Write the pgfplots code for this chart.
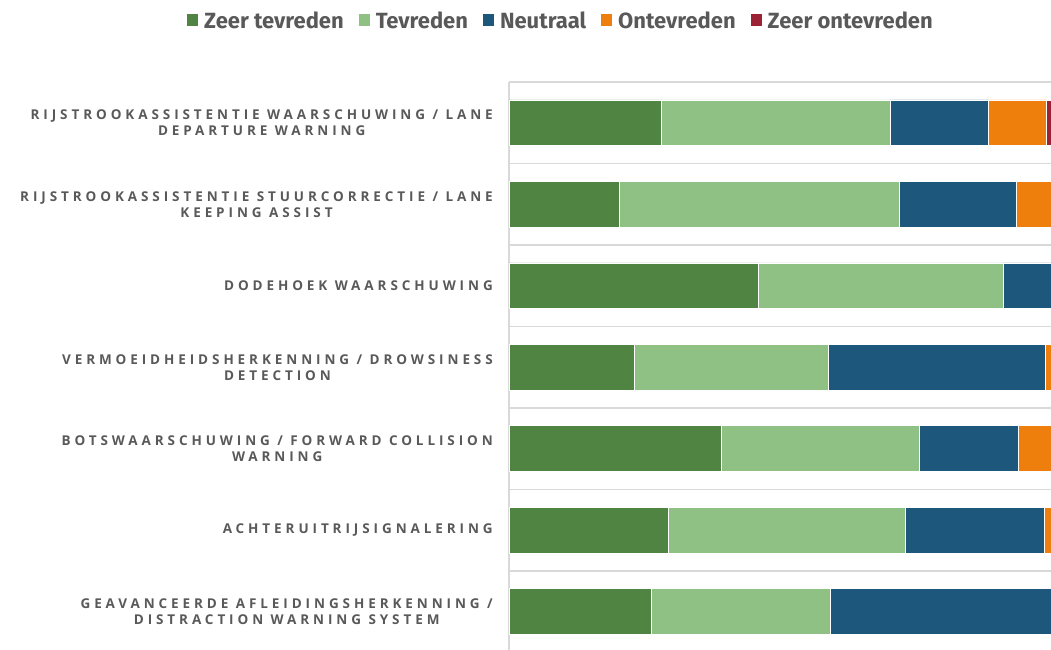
\documentclass[border=0pt]{standalone}
\usepackage{fontspec}
\setmainfont{Open Sans}
\newfontfamily\lblfont[LetterSpace=29]{Open Sans}
\newfontfamily\legfont{Fira Sans}
\usepackage{pgfplots}
\usepackage{pgfplotstable}
\pgfplotsset{compat=1.18}

\definecolor{zeertevr}{RGB}{79,132,66}
\definecolor{tevr}{RGB}{143,193,132}
\definecolor{neutr}{RGB}{30,87,124}
\definecolor{ontevr}{RGB}{239,127,13}
\definecolor{zeeront}{RGB}{155,35,53}
\definecolor{txtgray}{RGB}{89,89,89}
\definecolor{gridgray}{RGB}{217,217,217}

% share per category (percent), top to bottom
\pgfplotstableread{
pos zt   t    n    o    zo
0   28.0 42.3 18.1 10.7 0.9
1   20.3 51.7 21.6 6.4  0.0
2   45.9 45.2 8.9  0.0  0.0
3   23.1 35.8 40.1 1.0  0.0
4   39.2 36.5 18.3 6.0  0.0
5   29.4 43.8 25.6 1.2  0.0
6   26.3 32.9 40.8 0.0  0.0
}\satisfaction

\begin{document}
\begin{tikzpicture}
\useasboundingbox (0bp,0bp) rectangle (1051bp,650bp);
\begin{axis}[
    at={(509bp,0bp)}, anchor=south west,
    scale only axis,
    width=542bp, height=568bp,
    xbar stacked,
    bar width=0.564,
    xmin=0, xmax=100,
    ymin=-0.5, ymax=6.47,
    y dir=reverse,
    axis line style={draw=none},
    xtick=\empty,
    ytick={0,...,6},
    yticklabels={
      RIJSTROOKASSISTENTIE WAARSCHUWING / LANE\\DEPARTURE WARNING,
      RIJSTROOKASSISTENTIE STUURCORRECTIE / LANE\\KEEPING ASSIST,
      DODEHOEK WAARSCHUWING,
      VERMOEIDHEIDSHERKENNING / DROWSINESS\\DETECTION,
      BOTSWAARSCHUWING / FORWARD COLLISION\\WARNING,
      ACHTERUITRIJSIGNALERING,
      GEAVANCEERDE AFLEIDINGSHERKENNING /\\DISTRACTION WARNING SYSTEM},
    yticklabel style={font=\lblfont\bfseries\fontsize{13.5bp}{16bp}\selectfont,
      text=txtgray, align=center, inner xsep=0pt, xshift=-16bp},
    major tick length=0pt,
    extra x ticks={0},
    extra x tick labels={},
    extra x tick style={grid=major, major grid style={draw=gridgray, line width=1.5bp}},
    extra y ticks={-0.5,0.5,...,5.5},
    extra y tick labels={},
    extra y tick style={grid=major, major grid style={draw=gridgray, line width=1.5bp}},
    every axis plot/.append style={draw=white, line width=0.5bp},
    legend image code/.code={\fill[#1,draw=none] (0bp,-5bp) rectangle (11bp,7bp);},
    legend style={at={(0.096,1.107)}, anchor=center, draw=none, fill=none,
      legend columns=-1,
      font=\legfont\bfseries\fontsize{22bp}{26bp}\selectfont, text=txtgray,
      /tikz/every even column/.append style={column sep=13bp},
      /tikz/every odd column/.append style={column sep=4bp}},
]
\addplot[fill=zeertevr] table[x=zt, y=pos] {\satisfaction};
\addplot[fill=tevr] table[x=t, y=pos] {\satisfaction};
\addplot[fill=neutr] table[x=n, y=pos] {\satisfaction};
\addplot[fill=ontevr] table[x=o, y=pos] {\satisfaction};
\addplot[fill=zeeront] table[x=zo, y=pos] {\satisfaction};
\legend{Zeer tevreden, Tevreden, Neutraal, Ontevreden, Zeer ontevreden}
\end{axis}
\end{tikzpicture}
\end{document}
